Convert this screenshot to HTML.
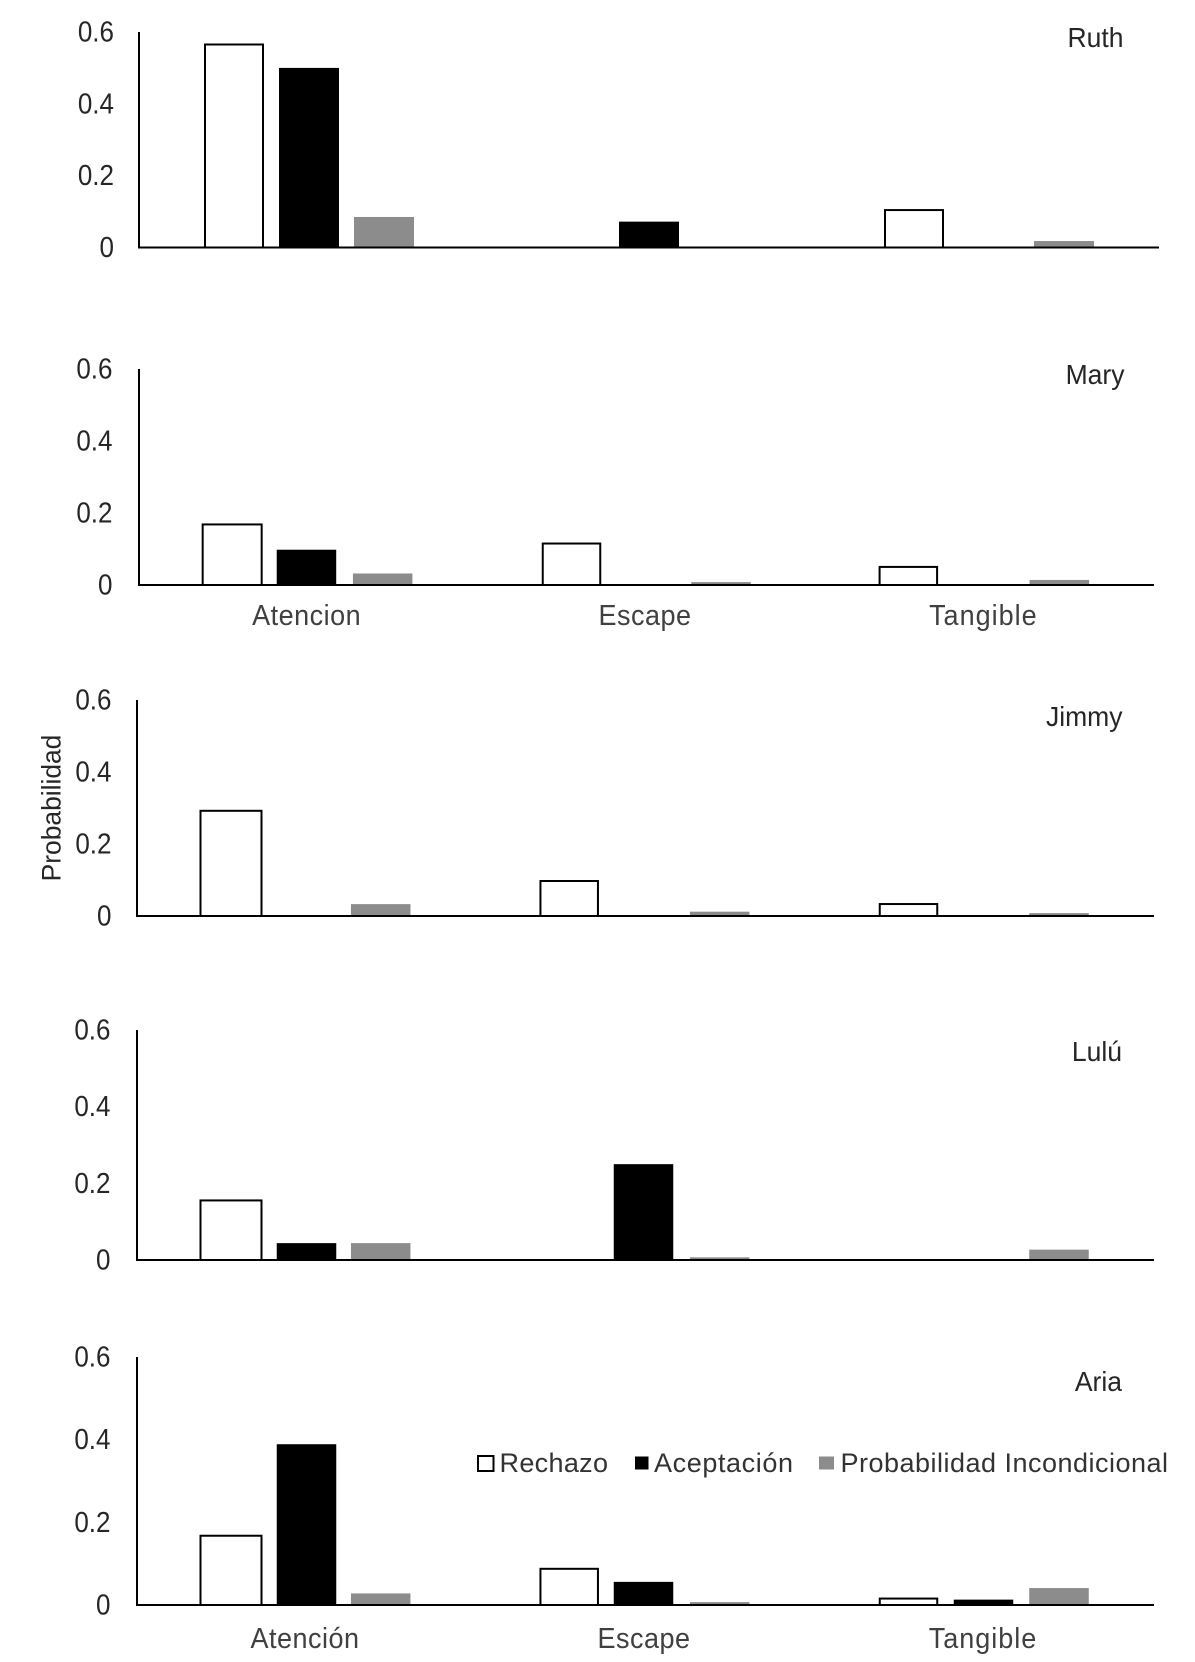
<!DOCTYPE html>
<html lang="es">
<head>
<meta charset="utf-8">
<title>Probabilidad por participante</title>
<style>
  html, body { margin: 0; padding: 0; background: #fff; }
  #chart { display: block; width: 1195px; height: 1662px; filter: blur(0.35px); }
  text { font-family: "Liberation Sans", sans-serif; }
</style>
</head>
<body>
<svg id="chart" xmlns="http://www.w3.org/2000/svg" width="1195" height="1662" viewBox="0 0 1195 1662">
  <rect x="0" y="0" width="1195" height="1662" fill="#fff"/>
  <g id="panels"></g>
  <text transform="translate(60.5 808) rotate(-90)" text-anchor="middle" font-size="26.4" fill="#262626">Probabilidad</text>
  <g>
    <g>
      <rect x="478" y="1456" width="15.5" height="15" fill="#fff" stroke="#000" stroke-width="2"/>
      <text x="499.5" y="1472" font-size="27" fill="#333" textLength="108.5" lengthAdjust="spacing">Rechazo</text>
    </g>
    <g>
      <rect x="635" y="1456.5" width="13.5" height="13" fill="#000"/>
      <text x="654" y="1472" font-size="27" fill="#333" textLength="139" lengthAdjust="spacing">Aceptación</text>
    </g>
    <g>
      <rect x="819" y="1456.5" width="15" height="13" fill="#8c8c8c"/>
      <text x="840.5" y="1472" font-size="27" fill="#333" textLength="327.5" lengthAdjust="spacing">Probabilidad Incondicional</text>
    </g>
  </g>
</svg>
<script>
const panelNames = ['Ruth', 'Mary', 'Jimmy', 'Lulú', 'Aria'];
const tickValues = [0, 0.2, 0.4, 0.6];
const tickLabels = ['0', '0.2', '0.4', '0.6'];
const categoriesMary = ['Atencion', 'Escape', 'Tangible'];
const categoriesAria = ['Atención', 'Escape', 'Tangible'];

const rechazo = [
  [0.568, 0, 0.107],
  [0.171, 0.118, 0.053],
  [0.295, 0.1, 0.036],
  [0.158, 0, 0],
  [0.17, 0.09, 0.018]
];
const aceptacion = [
  [0.5, 0.072, 0],
  [0.098, 0, 0],
  [0, 0, 0],
  [0.044, 0.25, 0],
  [0.389, 0.056, 0.013]
];
const incondicional = [
  [0.085, 0, 0.018],
  [0.032, 0.008, 0.014],
  [0.033, 0.012, 0.008],
  [0.044, 0.007, 0.027],
  [0.028, 0.007, 0.041]
];

const NS = 'http://www.w3.org/2000/svg';
const root = document.getElementById('panels');
const yMax = 0.6;

const layouts = [
  { left: 139, right: 1159, top: 32, base: 247.5, tickRight: 114, barW: 60, firstW: 60, step: 75, shifts: [[0, 0, 0], [0, 0, 0], [0, 0, 0]], nameX: 1123.5, nameY: 47, categories: null, labelY: 0 },
  { left: 139, right: 1154, top: 369, base: 585, tickRight: 112.5, barW: 59.5, firstW: 61, step: 75, shifts: [[-1, 0, -1.5], [-1.7, -1.7, -1.7], [-0.5, -0.5, -0.5]], nameX: 1124.5, nameY: 384, categories: categoriesMary, labelY: 625 },
  { left: 137, right: 1154, top: 700, base: 916, tickRight: 111.5, barW: 59.5, firstW: 63, step: 75, shifts: [[-0.5, -1.3, -1], [0, -2, -1], [-0.8, -0.8, -0.5]], nameX: 1122.5, nameY: 726, categories: null, labelY: 0 },
  { left: 137, right: 1154, top: 1030, base: 1260, tickRight: 110.5, barW: 59.5, firstW: 63, step: 75, shifts: [[-0.5, -1.3, -1], [0, -2, -1], [-0.8, -0.8, -0.5]], nameX: 1122, nameY: 1061, categories: null, labelY: 0 },
  { left: 137, right: 1154, top: 1357, base: 1605, tickRight: 110.5, barW: 59.5, firstW: 63, step: 75, shifts: [[-0.5, -1.3, -1], [0, -2, -1], [-0.8, -0.8, -0.5]], nameX: 1122, nameY: 1391, categories: categoriesAria, labelY: 1648 }
];

function slug(s) {
  return s.toLowerCase().normalize('NFD').replace(/[\u0300-\u036f]/g, '').replace(/[^a-z0-9]+/g, '-');
}

function addText(parent, str, x, y, anchor, size, fill, sy) {
  const t = document.createElementNS(NS, 'text');
  t.setAttribute('transform', 'translate(' + x + ' ' + y + ') scale(1 ' + sy + ')');
  t.setAttribute('text-anchor', anchor);
  t.setAttribute('font-size', size);
  t.setAttribute('fill', fill);
  t.textContent = str;
  parent.appendChild(t);
  return t;
}

function addLine(parent, x1, y1, x2, y2) {
  const l = document.createElementNS(NS, 'line');
  l.setAttribute('x1', x1);
  l.setAttribute('y1', y1);
  l.setAttribute('x2', x2);
  l.setAttribute('y2', y2);
  l.setAttribute('stroke', '#000');
  l.setAttribute('stroke-width', 2);
  parent.appendChild(l);
  return l;
}

panelNames.forEach(function (name, p) {
  const L = layouts[p];
  const g = document.createElementNS(NS, 'g');
  
  
  root.appendChild(g);

  const yScale = function (v) { return L.base - (v / yMax) * (L.base - L.top); };
  const bandW = (L.right - L.left) / 3;
  const center = function (i) { return L.left + bandW * (i + 0.5); };

  [rechazo, aceptacion, incondicional].forEach(function (series, s) {
    series[p].forEach(function (v, c) {
      if (!(v > 0)) return;
      const cx = center(c) + (s - 1) * L.step + L.shifts[s][c];
      const r = document.createElementNS(NS, 'rect');
      const top = yScale(v);
      if (s === 0) {
        const w = c === 0 ? L.firstW : L.barW;
        r.setAttribute('x', cx - w / 2 + 1);
        r.setAttribute('y', top + 1);
        r.setAttribute('width', w - 2);
        r.setAttribute('height', Math.max(L.base - top - 1, 0));
        r.setAttribute('fill', '#fff');
        r.setAttribute('stroke', '#000');
        r.setAttribute('stroke-width', 2);
      } else {
        r.setAttribute('x', cx - L.barW / 2);
        r.setAttribute('y', top);
        r.setAttribute('width', L.barW);
        r.setAttribute('height', L.base - top);
        r.setAttribute('fill', s === 1 ? '#000' : '#8c8c8c');
      }
      
      
      g.appendChild(r);
    });
  });

  const yAxis = addLine(g, L.left, L.top, L.left, L.base + 1);
  
  

  const xAxis = addLine(g, L.left - 1, L.base, L.right, L.base);
  
  

  tickValues.forEach(function (v, i) {
    const t = addText(g, tickLabels[i], L.tickRight, yScale(v) + 9.5, 'end', 26, '#262626', 1.1);
    
    
  });

  const title = addText(g, name, L.nameX, L.nameY, 'end', 26.5, '#262626', 1.06);
  
  

  if (L.categories) {
    L.categories.forEach(function (cat, c) {
      const t = addText(g, cat, center(c) - 1.5, L.labelY, 'middle', 27, '#404040', 1.06);
      t.setAttribute('letter-spacing', cat === 'Tangible' ? '1' : '0.5');
      
      
    });
  }
});
</script>
</body>
</html>
